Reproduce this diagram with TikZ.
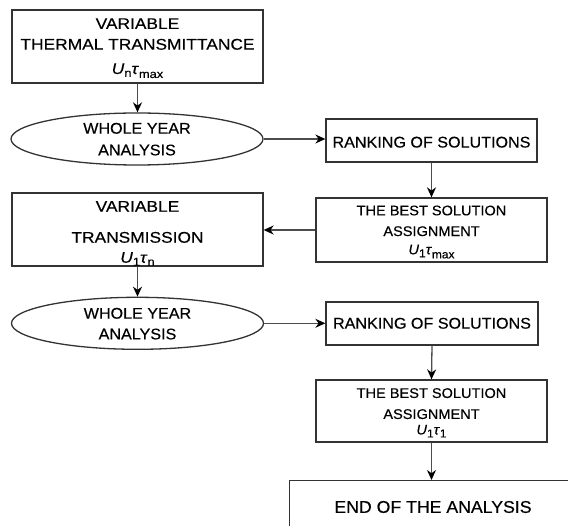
\documentclass[tikz,border=0pt]{standalone}
\usepackage{fontspec}
\setmainfont{Liberation Sans}
\newfontfamily\wfont[FakeStretch=1.12,FakeBold=0.35]{Liberation Sans}
\newfontfamily\nfont[FakeStretch=1.04,FakeBold=0.35]{Liberation Sans}
\usetikzlibrary{shapes.geometric,arrows.meta,calc}
\newcommand\lsub[2][-4pt]{\raisebox{#1}{\fontsize{11.5}{11.5}\selectfont #2}}
\begin{document}
\begin{tikzpicture}[x=1pt,y=-1pt,
  shp/.style={draw=black!80,line width=1.3pt,inner sep=0pt},
  rbox/.style={shp,rectangle},
  ell/.style={shp,ellipse,minimum width=252,minimum height=52},
  txt/.style={inner sep=0pt,align=center,text=black},
  conn/.style={draw=black!70,line width=1.3pt,-{Stealth[length=10pt,width=9pt,black]}}]
\clip (0,0) rectangle (568,526);
\fill[white] (0,0) rectangle (568,526);
% shapes
\node[rbox,minimum width=251,minimum height=73] (box1) at (137.5,46.5) {};
\node[ell] (ell1) at (137,139) {};
\node[rbox,minimum width=211,minimum height=43] (rank1) at (431.5,140.5) {};
\node[rbox,minimum width=231,minimum height=64] (best1) at (431.5,230) {};
\node[rbox,minimum width=251,minimum height=73] (box2) at (137.5,229.5) {};
\node[ell] (ell2) at (137.5,323.3) {};
\node[rbox,minimum width=212,minimum height=43] (rank2) at (432,323.5) {};
\node[rbox,minimum width=231,minimum height=62] (best2) at (431.5,411) {};
\node[rbox,minimum width=311,minimum height=90,anchor=north west] (endb) at (289,480) {};
% texts
\node[txt,font=\wfont\fontsize{15.5}{20.7}\selectfont] (t1) at (137.5,48.2)
  {VARIABLE\\THERMAL TRANSMITTANCE\\[3.6pt]\textit{U}\lsub[-3pt]{n}\textit{τ}\lsub{max}};
\node[txt,font=\nfont\fontsize{15.5}{21.7}\selectfont] (t2) at (137,139.2) {WHOLE YEAR\\ANALYSIS};
\node[txt,font=\nfont\fontsize{15.5}{18}\selectfont] (t3) at (431.5,142.2) {RANKING OF SOLUTIONS};
\node[txt,font=\nfont\fontsize{14}{20.7}\selectfont] (t4) at (431.5,232)
  {THE BEST SOLUTION\\ASSIGNMENT\\[-2.4pt]\textit{U}\lsub[-3pt]{1}\textit{τ}\lsub{max}};
\node[txt,font=\wfont\fontsize{15.5}{31}\selectfont] (t5) at (137.5,233.4)
  {VARIABLE\\TRANSMISSION\\[-11pt]\textit{U}\lsub[-3pt]{1}\textit{τ}\lsub[-3pt]{n}};
\node[txt,font=\nfont\fontsize{15.5}{20.7}\selectfont] (t6) at (137.5,323.7) {WHOLE YEAR\\ANALYSIS};
\node[txt,font=\nfont\fontsize{15.5}{18}\selectfont] (t7) at (432,323.3) {RANKING OF SOLUTIONS};
\node[txt,font=\nfont\fontsize{14}{21}\selectfont] (t8) at (431.5,412.8)
  {THE BEST SOLUTION\\ASSIGNMENT\\[-5.5pt]\textit{U}\lsub[-3pt]{1}\textit{τ}\lsub[-3pt]{1}};
\node[txt,font=\nfont\fontsize{17}{20}\selectfont] (t9) at (433,507) {END OF THE ANALYSIS};
% connectors
\draw[conn] (box1.south) -- (box1.south |- ell1.north);
\draw[conn] (ell1.east) -- (ell1.east -| rank1.west);
\draw[conn] (rank1.south) -- (best1.north);
\draw[conn] (best1.west) -- (best1.west -| box2.east);
\draw[conn] (box2.south) -- (box2.south |- ell2.north);
\draw[conn] (ell2.east) -- (ell2.east -| rank2.west);
\draw[conn] (rank2.south) -- (best2.north);
\draw[conn] (best2.south) -- (best2.south |- endb.north);
\end{tikzpicture}
\end{document}
